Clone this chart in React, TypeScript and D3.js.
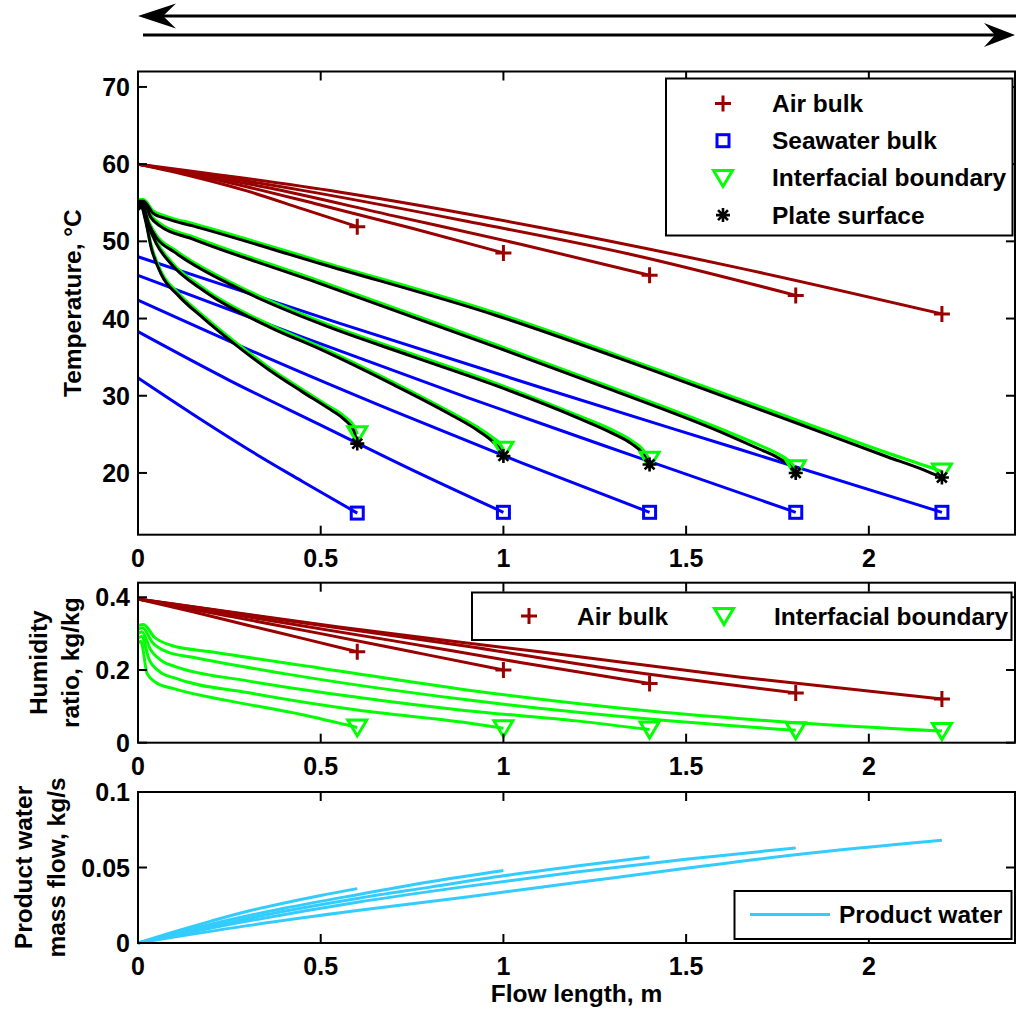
import { useEffect, useRef } from 'react';
import * as d3 from 'd3';

type Pt = [number, number];

const flowLengths = [0.6, 1.0, 1.4, 1.8, 2.2];
const xTicks = [0, 0.5, 1, 1.5, 2];
const xTickLabels = ['0', '0.5', '1', '1.5', '2'];
const tempTicks = [20, 30, 40, 50, 60, 70];
const tempTickLabels = ['20', '30', '40', '50', '60', '70'];
const humTicks = [0, 0.2, 0.4];
const humTickLabels = ['0', '0.2', '0.4'];
const prodTicks = [0, 0.05, 0.1];
const prodTickLabels = ['0', '0.05', '0.1'];

// air bulk temperature, °C
const airT06: Pt[] = [[0, 60], [0.15, 58.4], [0.3, 56.5], [0.45, 54.2], [0.6, 51.9]];
const airT10: Pt[] = [[0, 60], [0.25, 57.6], [0.5, 54.7], [0.75, 51.7], [1.0, 48.5]];
const airT14: Pt[] = [[0, 60], [0.35, 57.0], [0.7, 53.3], [1.05, 49.6], [1.4, 45.6]];
const airT18: Pt[] = [[0, 60], [0.45, 56.6], [0.9, 52.6], [1.35, 48.3], [1.8, 43.0]];
const airT22: Pt[] = [[0, 60], [0.55, 56.4], [1.1, 51.8], [1.65, 46.5], [2.2, 40.6]];

// seawater bulk temperature, °C
const swT06: Pt[] = [[0, 32.3], [0.15, 27.6], [0.3, 23.1], [0.45, 18.9], [0.6, 14.8]];
const swT10: Pt[] = [[0, 38.3], [0.25, 32.0], [0.5, 26.2], [0.75, 20.4], [1.0, 14.9]];
const swT14: Pt[] = [[0, 42.4], [0.35, 35.0], [0.7, 28.0], [1.05, 21.3], [1.4, 14.9]];
const swT18: Pt[] = [[0, 45.6], [0.45, 37.6], [0.9, 29.8], [1.35, 22.3], [1.8, 14.9]];
const swT22: Pt[] = [[0, 48.0], [0.55, 39.4], [1.1, 31.1], [1.65, 23.0], [2.2, 14.9]];

// interfacial boundary temperature, °C
const ifT06: Pt[] = [[0, 54.3], [0.01, 54.6], [0.02, 53.0], [0.036, 49.5], [0.064, 46.0], [0.11, 43.3], [0.18, 40.3], [0.27, 36.8], [0.36, 33.6], [0.45, 30.8], [0.52, 28.7], [0.565, 27.3], [0.59, 26.1], [0.6, 25.0]];
const ifT10: Pt[] = [[0, 54.6], [0.01, 54.9], [0.025, 52.8], [0.05, 50.0], [0.09, 47.4], [0.18, 43.9], [0.36, 39.2], [0.5, 36.3], [0.7, 31.7], [0.85, 28.0], [0.93, 25.9], [0.97, 24.6], [0.99, 23.8], [1.0, 23.0]];
const ifT14: Pt[] = [[0, 54.9], [0.01, 55.1], [0.03, 52.5], [0.05, 50.8], [0.1, 48.9], [0.27, 44.3], [0.5, 39.6], [0.75, 35.4], [0.98, 31.6], [1.2, 27.5], [1.3, 25.5], [1.35, 24.2], [1.38, 23.1], [1.4, 21.7]];
const ifT18: Pt[] = [[0, 55.2], [0.015, 55.3], [0.035, 53.4], [0.06, 52.3], [0.15, 50.6], [0.5, 44.8], [0.98, 36.6], [1.3, 31.0], [1.6, 25.6], [1.7, 23.6], [1.75, 22.5], [1.78, 21.6], [1.8, 20.6]];
const ifT22: Pt[] = [[0, 55.4], [0.015, 55.4], [0.04, 54.0], [0.08, 53.2], [0.15, 52.3], [0.5, 47.4], [0.98, 40.7], [1.42, 33.4], [1.8, 26.9], [2.05, 22.6], [2.15, 21.0], [2.2, 20.2]];

// plate surface temperature, °C
const plT06: Pt[] = [[0, 54.1], [0.01, 54.4], [0.02, 52.8], [0.036, 49.2], [0.064, 45.7], [0.11, 43.0], [0.18, 40.0], [0.27, 36.5], [0.36, 33.3], [0.45, 30.5], [0.52, 28.4], [0.565, 26.9], [0.59, 25.5], [0.6, 23.8]];
const plT10: Pt[] = [[0, 54.4], [0.01, 54.7], [0.025, 52.5], [0.05, 49.7], [0.09, 47.1], [0.18, 43.6], [0.36, 38.9], [0.5, 36.0], [0.7, 31.4], [0.85, 27.7], [0.93, 25.5], [0.97, 24.1], [0.99, 23.1], [1.0, 22.2]];
const plT14: Pt[] = [[0, 54.7], [0.01, 54.9], [0.03, 52.2], [0.05, 50.5], [0.1, 48.6], [0.27, 44.0], [0.5, 39.3], [0.75, 35.1], [0.98, 31.3], [1.2, 27.2], [1.3, 25.1], [1.35, 23.8], [1.38, 22.6], [1.4, 21.1]];
const plT18: Pt[] = [[0, 55.0], [0.015, 55.1], [0.035, 53.1], [0.06, 52.0], [0.15, 50.3], [0.5, 44.5], [0.98, 36.3], [1.3, 30.7], [1.6, 25.2], [1.7, 23.1], [1.75, 22.0], [1.78, 21.1], [1.8, 20.0]];
const plT22: Pt[] = [[0, 55.2], [0.015, 55.2], [0.04, 53.7], [0.08, 52.9], [0.15, 52.0], [0.5, 47.1], [0.98, 40.4], [1.42, 33.1], [1.8, 26.5], [2.05, 22.1], [2.15, 20.4], [2.2, 19.4]];

// humidity ratio, kg/kg
const airH06: Pt[] = [[0, 0.395], [0.15, 0.36], [0.3, 0.323], [0.45, 0.287], [0.6, 0.25]];
const airH10: Pt[] = [[0, 0.395], [0.25, 0.348], [0.5, 0.3], [0.75, 0.25], [1.0, 0.2]];
const airH14: Pt[] = [[0, 0.395], [0.35, 0.338], [0.7, 0.28], [1.05, 0.22], [1.4, 0.163]];
const airH18: Pt[] = [[0, 0.395], [0.45, 0.33], [0.9, 0.265], [1.35, 0.195], [1.8, 0.137]];
const airH22: Pt[] = [[0, 0.395], [0.55, 0.318], [1.1, 0.25], [1.65, 0.18], [2.2, 0.12]];

const ifH06: Pt[] = [[0, 0.275], [0.008, 0.278], [0.025, 0.19], [0.05, 0.165], [0.1, 0.148], [0.25, 0.115], [0.45, 0.077], [0.6, 0.042]];
const ifH10: Pt[] = [[0, 0.288], [0.01, 0.292], [0.03, 0.23], [0.06, 0.195], [0.1, 0.178], [0.3, 0.138], [0.6, 0.09], [0.9, 0.055], [1.0, 0.04]];
const ifH14: Pt[] = [[0, 0.3], [0.01, 0.305], [0.035, 0.255], [0.07, 0.222], [0.1, 0.21], [0.3, 0.17], [0.6, 0.125], [0.9, 0.088], [1.2, 0.06], [1.4, 0.036]];
const ifH18: Pt[] = [[0, 0.312], [0.012, 0.316], [0.04, 0.275], [0.08, 0.25], [0.15, 0.235], [0.4, 0.19], [0.9, 0.118], [1.4, 0.065], [1.8, 0.034]];
const ifH22: Pt[] = [[0, 0.322], [0.015, 0.325], [0.045, 0.29], [0.09, 0.268], [0.2, 0.25], [0.5, 0.205], [0.9, 0.145], [1.4, 0.087], [1.8, 0.055], [2.2, 0.032]];

// product water mass flow, kg/s
const prod06: Pt[] = [[0, 0], [0.1, 0.0075], [0.2, 0.0145], [0.3, 0.021], [0.4, 0.0265], [0.5, 0.0315], [0.6, 0.036]];
const prod10: Pt[] = [[0, 0], [0.2, 0.0125], [0.4, 0.023], [0.6, 0.032], [0.8, 0.0405], [1.0, 0.048]];
const prod14: Pt[] = [[0, 0], [0.2, 0.011], [0.4, 0.021], [0.6, 0.0295], [0.8, 0.037], [1.0, 0.0445], [1.2, 0.051], [1.4, 0.057]];
const prod18: Pt[] = [[0, 0], [0.3, 0.0145], [0.6, 0.027], [0.9, 0.0375], [1.2, 0.047], [1.5, 0.0555], [1.8, 0.063]];
const prod22: Pt[] = [[0, 0], [0.3, 0.0115], [0.6, 0.0215], [0.9, 0.0305], [1.2, 0.04], [1.5, 0.0495], [1.8, 0.0585], [2.2, 0.068]];

const airTemp = [airT06, airT10, airT14, airT18, airT22];
const swTemp = [swT06, swT10, swT14, swT18, swT22];
const ifTemp = [ifT06, ifT10, ifT14, ifT18, ifT22];
const plTemp = [plT06, plT10, plT14, plT18, plT22];
const airHum = [airH06, airH10, airH14, airH18, airH22];
const ifHum = [ifH06, ifH10, ifH14, ifH18, ifH22];
const prodFlow = [prod06, prod10, prod14, prod18, prod22];

const COLORS = {
  air: '#990000',
  sea: '#0000ff',
  iface: '#00ff00',
  plate: '#000000',
  prod: '#33ccff'
};

const FONT = '"Liberation Sans", Arial, Helvetica, sans-serif';
const LEFT = 138;
const RIGHT = 1015;

const App = () => {
  const svgRef = useRef<SVGSVGElement>(null);

  useEffect(() => {
    const svg = d3.select(svgRef.current);
    svg.selectAll('*').remove();

    const x = d3.scaleLinear().domain([0, 2.4]).range([LEFT, RIGHT]);
    const yT = d3.scaleLinear().domain([12, 72]).range([534.7, 71.5]);
    const yH = d3.scaleLinear().domain([0, 0.44]).range([742.7, 582.7]);
    const yP = d3.scaleLinear().domain([0, 0.1]).range([943, 792]);

    const text = (g: any, tx: number, ty: number, s: string, anchor = 'start', size = 24.5) =>
      g.append('text')
        .attr('x', tx)
        .attr('y', ty)
        .attr('text-anchor', anchor)
        .attr('dominant-baseline', 'central')
        .attr('font-family', FONT)
        .attr('font-weight', 'bold')
        .attr('font-size', size)
        .attr('fill', '#000')
        .text(s);

    // markers
    const plus = (g: any, cx: number, cy: number, color: string) =>
      g.append('path')
        .attr('d', `M${cx - 8},${cy}H${cx + 8}M${cx},${cy - 8}V${cy + 8}`)
        .attr('stroke', color).attr('stroke-width', 3).attr('fill', 'none');
    const square = (g: any, cx: number, cy: number, color: string) =>
      g.append('rect')
        .attr('x', cx - 6).attr('y', cy - 6).attr('width', 12).attr('height', 12)
        .attr('stroke', color).attr('stroke-width', 3).attr('fill', 'none');
    const triangle = (g: any, cx: number, cy: number, color: string) =>
      g.append('path')
        .attr('d', `M${cx - 9.5},${cy - 7.5}L${cx + 9.5},${cy - 7.5}L${cx},${cy + 8.5}Z`)
        .attr('stroke', color).attr('stroke-width', 3).attr('fill', 'none')
        .attr('stroke-linejoin', 'miter');
    const asterisk = (g: any, cx: number, cy: number, color: string) => {
      const r = 7;
      const d = r * 0.707;
      g.append('path')
        .attr('d', `M${cx - r},${cy}H${cx + r}M${cx},${cy - r}V${cy + r}M${cx - d},${cy - d}L${cx + d},${cy + d}M${cx - d},${cy + d}L${cx + d},${cy - d}`)
        .attr('stroke', color).attr('stroke-width', 2.6).attr('fill', 'none');
    };

    const lineGen = (y: any) => d3.line<Pt>()
      .x(d => x(d[0]))
      .y(d => y(d[1]))
      .curve(d3.curveMonotoneX);

    const drawSeries = (g: any, series: Pt[][], y: any, color: string, width: number) => {
      series.forEach(s => {
        g.append('path')
          .datum(s)
          .attr('fill', 'none')
          .attr('stroke', color)
          .attr('stroke-width', width)
          .attr('stroke-linejoin', 'round')
          .attr('d', lineGen(y));
      });
    };

    const drawEndMarkers = (g: any, series: Pt[][], y: any, color: string, marker: any) => {
      series.forEach(s => {
        const last = s[s.length - 1];
        marker(g, x(last[0]), y(last[1]), color);
      });
    };

    const drawAxes = (y: any, ticks: number[], labels: string[]) => {
      const [yb, yt] = y.range();
      const g = svg.append('g');
      g.append('rect')
        .attr('x', LEFT).attr('y', yt)
        .attr('width', RIGHT - LEFT).attr('height', yb - yt)
        .attr('fill', 'none').attr('stroke', '#000').attr('stroke-width', 2);
      xTicks.forEach((t, i) => {
        const px = x(t);
        g.append('line').attr('x1', px).attr('x2', px).attr('y1', yb).attr('y2', yb - 9)
          .attr('stroke', '#000').attr('stroke-width', 2);
        g.append('line').attr('x1', px).attr('x2', px).attr('y1', yt).attr('y2', yt + 9)
          .attr('stroke', '#000').attr('stroke-width', 2);
        text(g, px, yb + 23, xTickLabels[i], 'middle', 25);
      });
      ticks.forEach((t, i) => {
        const py = y(t);
        g.append('line').attr('x1', LEFT).attr('x2', LEFT + 9).attr('y1', py).attr('y2', py)
          .attr('stroke', '#000').attr('stroke-width', 2);
        g.append('line').attr('x1', RIGHT).attr('x2', RIGHT - 9).attr('y1', py).attr('y2', py)
          .attr('stroke', '#000').attr('stroke-width', 2);
        text(g, LEFT - 8, py, labels[i], 'end', 25);
      });
    };

    const yLabel = (lines: string[], baselines: number[], cy: number) => {
      lines.forEach((s, i) => {
        svg.append('text')
          .attr('transform', `translate(${baselines[i]},${cy}) rotate(-90)`)
          .attr('text-anchor', 'middle')
          .attr('font-family', FONT)
          .attr('font-weight', 'bold')
          .attr('font-size', 24.5)
          .attr('fill', '#000')
          .text(s);
      });
    };

    // direction arrows
    const arrows = svg.append('g');
    arrows.append('line').attr('x1', 1016).attr('x2', 150).attr('y1', 16).attr('y2', 16)
      .attr('stroke', '#000').attr('stroke-width', 3);
    arrows.append('path').attr('d', 'M138,16L176,3.5L163,16L176,28.5Z').attr('fill', '#000');
    arrows.append('line').attr('x1', 143).attr('x2', 1000).attr('y1', 35).attr('y2', 35)
      .attr('stroke', '#000').attr('stroke-width', 3);
    arrows.append('path').attr('d', 'M1015,35L984,23L995,35L984,47Z').attr('fill', '#000');

    // temperature panel
    const gT = svg.append('g');
    drawSeries(gT, airTemp, yT, COLORS.air, 3);
    drawSeries(gT, swTemp, yT, COLORS.sea, 3);
    drawSeries(gT, ifTemp, yT, COLORS.iface, 3.2);
    drawSeries(gT, plTemp, yT, COLORS.plate, 3);
    drawEndMarkers(gT, airTemp, yT, COLORS.air, plus);
    drawEndMarkers(gT, swTemp, yT, COLORS.sea, square);
    drawEndMarkers(gT, ifTemp, yT, COLORS.iface, triangle);
    drawEndMarkers(gT, plTemp, yT, COLORS.plate, asterisk);
    drawAxes(yT, tempTicks, tempTickLabels);
    yLabel(['Temperature, °C'], [81], (71.5 + 534.7) / 2);

    // temperature legend
    const lt = svg.append('g');
    lt.append('rect').attr('x', 666).attr('y', 78.5).attr('width', 346.5).attr('height', 157)
      .attr('fill', '#fff').attr('stroke', '#000').attr('stroke-width', 2);
    const tempLegend = [
      { label: 'Air bulk', color: COLORS.air, marker: plus },
      { label: 'Seawater bulk', color: COLORS.sea, marker: square },
      { label: 'Interfacial boundary', color: COLORS.iface, marker: triangle },
      { label: 'Plate surface', color: COLORS.plate, marker: asterisk }
    ];
    tempLegend.forEach((item, i) => {
      const cy = 103.5 + i * 37.2;
      item.marker(lt, 723, cy, item.color);
      text(lt, 772, cy, item.label);
    });

    // humidity panel
    const gH = svg.append('g');
    drawSeries(gH, airHum, yH, COLORS.air, 3);
    drawSeries(gH, ifHum, yH, COLORS.iface, 3);
    drawEndMarkers(gH, airHum, yH, COLORS.air, plus);
    drawEndMarkers(gH, ifHum, yH, COLORS.iface, triangle);
    drawAxes(yH, humTicks, humTickLabels);
    yLabel(['Humidity', 'ratio, kg/kg'], [47, 79], (582.7 + 742.7) / 2);

    const lh = svg.append('g');
    lh.append('rect').attr('x', 472).attr('y', 592.5).attr('width', 539.5).attr('height', 47.5)
      .attr('fill', '#fff').attr('stroke', '#000').attr('stroke-width', 2);
    plus(lh, 529, 616, COLORS.air);
    text(lh, 577, 616, 'Air bulk');
    triangle(lh, 724, 616, COLORS.iface);
    text(lh, 774, 616, 'Interfacial boundary');

    // product water panel
    const gP = svg.append('g');
    drawSeries(gP, prodFlow, yP, COLORS.prod, 3);
    drawAxes(yP, prodTicks, prodTickLabels);
    yLabel(['Product water', 'mass flow, kg/s'], [32, 65], (792 + 943) / 2);

    const lp = svg.append('g');
    lp.append('rect').attr('x', 734.5).attr('y', 891).attr('width', 277).attr('height', 48)
      .attr('fill', '#fff').attr('stroke', '#000').attr('stroke-width', 2);
    lp.append('line').attr('x1', 750).attr('x2', 830).attr('y1', 914.5).attr('y2', 914.5)
      .attr('stroke', COLORS.prod).attr('stroke-width', 3);
    text(lp, 839, 914.5, 'Product water');

    svg.append('text')
      .attr('x', (LEFT + RIGHT) / 2)
      .attr('y', 1001.5)
      .attr('text-anchor', 'middle')
      .attr('font-family', FONT)
      .attr('font-weight', 'bold')
      .attr('font-size', 24.5)
      .attr('fill', '#000')
      .text('Flow length, m');
  }, []);

  return (
    <svg
      ref={svgRef}
      width={1016}
      height={1018}
      style={{ position: 'absolute', left: 0, top: 0, background: '#fff' }}
    />
  );
};

export default App;
